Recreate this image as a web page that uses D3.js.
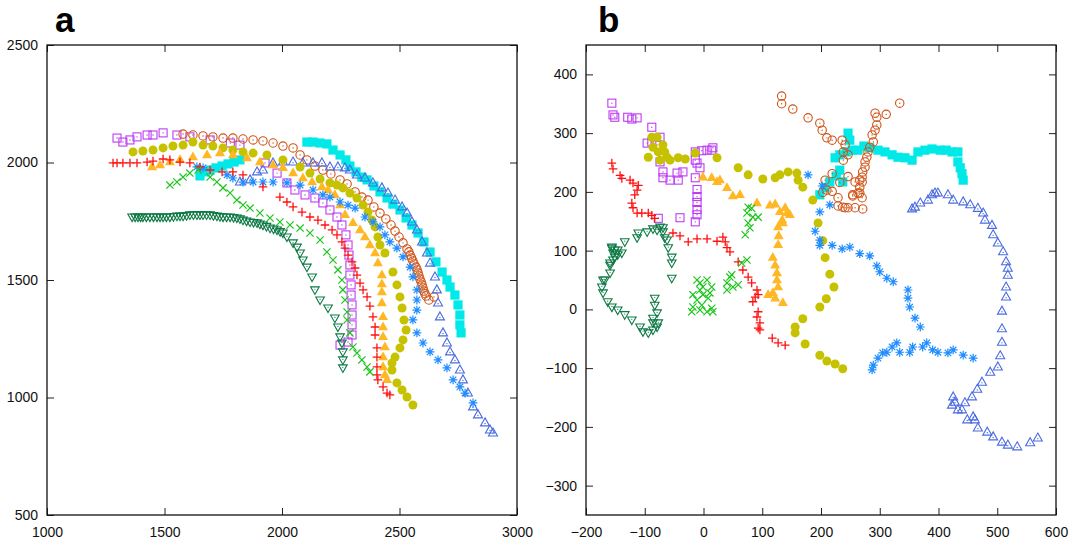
<!DOCTYPE html>
<html>
<head>
<meta charset="utf-8">
<script src="https://cdn.jsdelivr.net/npm/d3@7"></script>
<style>
  body { margin: 0; background: #fff; }
  svg text { font-family: "Liberation Sans", Arial, Helvetica, sans-serif; }
</style>
</head>
<body>
<svg id="chart" width="1072" height="543"></svg>
<script>
// ---------- Panel a : absolute positions ----------
const aSquare = [[1298,2104],[1323,2087],[1353,2096],[1383,2109],[1426,2117],[1451,2117],[1494,2126],[1553,2117],[1608,2109],[1694,2096],[1780,2083],[1821,2074],[1928,1998],[1979,1955],[2021,1913],[2055,1883],[2098,1862],[2140,1849],[2174,1828],[2204,1798],[2234,1768],[2255,1734],[2272,1692],[2281,1649],[2285,1606],[2289,1564],[2289,1521],[2294,1479],[2294,1436],[2298,1394],[2298,1351],[2298,1309],[2298,1266],[2281,1236],[2247,1223]];
const aCircle = [[1579,2121],[1621,2117],[1664,2113],[1706,2109],[1749,2104],[1791,2104],[1834,2100],[1877,2096],[1919,2092],[1962,2083],[2004,2070],[2047,2062],[2077,2032],[2106,2011],[2140,1985],[2174,1968],[2208,1951],[2247,1926],[2277,1909],[2311,1875],[2340,1853],[2366,1840],[2391,1811],[2417,1785],[2442,1760],[2464,1734],[2481,1708],[2498,1683],[2515,1658],[2532,1632],[2540,1620],[2545,1606],[2551,1594],[2557,1581],[2562,1568],[2570,1555],[2575,1543],[2579,1530],[2583,1517],[2587,1504],[2592,1492],[2596,1479],[2600,1466],[2604,1453],[2608,1442],[2613,1432],[2625,1415],[2647,1428]];
const aDisc = [[1366,2045],[1408,2049],[1451,2053],[1494,2062],[1536,2070],[1579,2074],[1621,2087],[1664,2074],[1706,2070],[1749,2062],[1791,2053],[1834,2045],[1877,2040],[1936,2032],[2004,2011],[2077,1981],[2119,1955],[2162,1930],[2204,1913],[2234,1904],[2259,1892],[2289,1870],[2319,1849],[2345,1819],[2366,1789],[2383,1755],[2396,1726],[2408,1683],[2417,1649],[2438,1615],[2472,1534],[2489,1479],[2502,1428],[2511,1381],[2519,1330],[2528,1287],[2515,1245],[2502,1211],[2481,1172],[2468,1147],[2468,1117],[2489,1062],[2511,1032],[2532,1002],[2557,968]];
const aTriFill = [[1447,1981],[1481,1989],[1523,2002],[1566,2011],[1621,2023],[1681,2032],[1736,2040],[1791,2032],[1851,2019],[1906,2002],[1962,1989],[2004,1977],[2047,1955],[2089,1934],[2128,1917],[2170,1896],[2196,1883],[2225,1862],[2247,1819],[2268,1777],[2302,1743],[2332,1713],[2353,1683],[2374,1649],[2396,1615],[2408,1572],[2425,1521],[2425,1483],[2425,1449],[2425,1402],[2430,1343],[2430,1300],[2430,1258],[2438,1215],[2430,1172],[2430,1130],[2438,1096],[2447,1075]];
const aPlus = [[1281,1998],[1298,1998],[1323,1998],[1353,1998],[1383,1998],[1426,2002],[1451,2006],[1494,2015],[1523,2011],[1566,2002],[1608,1998],[1651,1981],[1694,1968],[1745,1960],[1791,1960],[1834,1947],[1919,1896],[1991,1853],[2021,1832],[2047,1811],[2085,1789],[2119,1768],[2153,1755],[2183,1734],[2213,1713],[2234,1692],[2255,1662],[2268,1636],[2281,1606],[2298,1577],[2311,1551],[2319,1521],[2332,1487],[2345,1458],[2362,1428],[2374,1389],[2387,1343],[2396,1300],[2396,1266],[2404,1211],[2404,1172],[2404,1130],[2404,1096],[2408,1075],[2430,1045],[2447,1019],[2459,1011]];
const aStar = [[1638,1981],[1664,1977],[1766,1947],[1791,1934],[1834,1917],[1877,1917],[1919,1917],[1962,1917],[2021,1913],[2077,1904],[2132,1883],[2174,1862],[2204,1853],[2247,1832],[2281,1819],[2311,1806],[2353,1768],[2387,1747],[2417,1726],[2438,1692],[2459,1662],[2489,1636],[2515,1598],[2545,1555],[2557,1513],[2574,1458],[2574,1415],[2574,1372],[2557,1330],[2574,1275],[2600,1232],[2630,1194],[2664,1160],[2702,1126],[2728,1075],[2757,1045],[2779,1019],[2813,977]];
const aTriOpen = [[1821,1917],[1864,1926],[1894,1960],[1919,1968],[1962,1998],[2004,2002],[2047,2002],[2089,1998],[2132,1998],[2170,1998],[2204,1981],[2238,1981],[2268,1977],[2289,1968],[2319,1947],[2353,1934],[2387,1913],[2425,1892],[2451,1870],[2481,1840],[2511,1811],[2532,1785],[2553,1747],[2574,1713],[2596,1662],[2617,1615],[2630,1572],[2651,1513],[2659,1458],[2664,1402],[2672,1343],[2685,1275],[2702,1232],[2715,1194],[2736,1160],[2757,1117],[2770,1075],[2791,1019],[2813,960],[2834,926],[2864,892],[2885,862],[2898,849]];
const aCross = [[1523,1904],[1553,1917],[1579,1938],[1608,1955],[1643,1968],[1694,1938],[1723,1917],[1749,1892],[1779,1870],[1808,1840],[1834,1819],[1864,1806],[1906,1785],[1949,1764],[1991,1747],[2034,1734],[2077,1721],[2119,1700],[2162,1670],[2191,1619],[2217,1585],[2238,1543],[2255,1500],[2259,1458],[2268,1415],[2277,1364],[2277,1330],[2289,1275],[2302,1215],[2319,1189],[2340,1160],[2362,1130],[2374,1109]];
const aTriDown = [[1362,1768],[1375,1768],[1387,1768],[1398,1768],[1408,1768],[1423,1768],[1438,1768],[1453,1768],[1468,1768],[1481,1768],[1494,1768],[1508,1768],[1523,1768],[1538,1770],[1553,1772],[1566,1772],[1579,1772],[1594,1774],[1608,1777],[1623,1777],[1638,1777],[1651,1777],[1664,1777],[1679,1777],[1694,1777],[1708,1774],[1723,1772],[1736,1770],[1749,1768],[1764,1768],[1779,1768],[1794,1766],[1808,1764],[1821,1760],[1834,1755],[1849,1751],[1864,1747],[1879,1745],[1894,1743],[1906,1738],[1919,1734],[1934,1728],[1949,1721],[1964,1717],[1979,1713],[1992,1706],[2004,1700],[2021,1683],[2047,1658],[2064,1640],[2077,1615],[2089,1585],[2106,1555],[2128,1513],[2140,1458],[2162,1415],[2196,1381],[2225,1338],[2238,1300],[2247,1258],[2255,1232],[2259,1194],[2259,1160],[2259,1126]];
const aSquareFill = [[1651,1943],[1672,1960],[1694,1968],[1719,1977],[1745,1985],[1770,1994],[1796,2002],[1821,2011],[2106,2087],[2132,2087],[2162,2083],[2191,2079],[2217,2053],[2247,2032],[2272,2011],[2289,1985],[2315,1960],[2340,1938],[2362,1926],[2391,1900],[2417,1875],[2447,1849],[2472,1823],[2502,1798],[2528,1764],[2553,1734],[2579,1700],[2604,1662],[2630,1619],[2655,1577],[2681,1534],[2702,1500],[2715,1470],[2736,1436],[2749,1394],[2757,1351],[2757,1309],[2762,1275]];

// ---------- Panel b : displacements ----------
const bSquare = [[-156,351],[-154,331],[-151,327],[-129,327],[-122,324],[-113,326],[-88,310],[-96,283],[-88,285],[-74,293],[-79,280],[-74,251],[-69,234],[-69,224],[-57,220],[-45,232],[-43,220],[-35,234],[-14,268],[-3,270],[6,271],[14,271],[16,275],[-14,254],[-11,249],[-6,241],[-14,224],[-11,204],[-11,192],[-11,182],[-11,170],[-11,161],[-14,149],[-40,156],[-77,155]];
const bCircle = [[334,351],[311,332],[292,334],[295,327],[295,314],[292,305],[287,297],[289,285],[283,276],[280,268],[278,259],[275,251],[275,242],[271,234],[270,225],[266,220],[266,208],[263,198],[270,190],[254,193],[271,171],[258,173],[246,173],[237,174],[229,176],[229,190],[232,216],[246,226],[219,231],[207,220],[210,203],[203,199],[219,201],[254,195],[266,198],[270,217],[258,217],[241,173],[178,326],[198,317],[202,305],[210,292],[219,288],[236,288],[241,280],[238,268],[246,263],[238,254],[133,363],[133,350],[152,341]];
const bDisc = [[-88,293],[-79,293],[-94,259],[-86,276],[-77,268],[-69,280],[-66,268],[-62,259],[-74,254],[-57,254],[-43,258],[-31,256],[-14,266],[23,258],[59,241],[76,229],[101,222],[122,224],[130,229],[144,234],[159,232],[161,220],[169,208],[186,186],[195,147],[203,117],[207,88],[215,60],[222,38],[209,18],[198,4],[169,-16],[156,-30],[156,-40],[173,-59],[198,-78],[210,-88],[224,-93],[237,-101]];
const bTriFill = [[-1,225],[14,224],[23,217],[28,220],[40,207],[50,193],[62,195],[91,181],[113,177],[122,179],[130,166],[142,164],[134,152],[127,140],[135,147],[139,173],[147,161],[128,125],[127,110],[118,88],[122,75],[125,62],[125,50],[127,38],[118,28],[110,25],[122,19],[135,11]];
const bPlus = [[-156,249],[-154,239],[-142,228],[-139,223],[-125,220],[-120,215],[-111,211],[-113,203],[-117,195],[-122,181],[-120,173],[-113,164],[-105,164],[-94,164],[-88,160],[-83,155],[-52,130],[-40,125],[-26,115],[-11,120],[6,120],[23,116],[33,123],[37,115],[40,105],[45,98],[59,81],[67,67],[76,55],[82,45],[91,33],[93,25],[88,21],[84,13],[93,-4],[91,-13],[96,-23],[93,-32],[96,-35],[117,-49],[127,-57],[139,-61]];
const bStar = [[178,229],[202,210],[215,178],[198,166],[190,133],[198,118],[198,109],[219,109],[236,103],[249,106],[266,95],[283,91],[295,74],[300,64],[312,53],[323,47],[348,33],[348,19],[351,4],[360,-15],[369,-30],[329,-57],[321,-64],[312,-73],[305,-74],[297,-83],[289,-95],[287,-103],[334,-73],[351,-73],[356,-64],[373,-64],[380,-57],[390,-69],[399,-73],[416,-74],[425,-69],[442,-78],[459,-83]];
const bTriOpen = [[355,171],[360,174],[369,181],[382,186],[389,195],[394,198],[399,198],[416,195],[425,186],[442,183],[454,178],[467,172],[476,164],[479,152],[491,143],[493,127],[501,113],[510,98],[515,81],[518,70],[518,58],[515,38],[515,21],[508,-3],[508,-33],[508,-56],[505,-79],[501,-98],[488,-107],[474,-124],[466,-136],[457,-149],[445,-159],[425,-149],[428,-158],[423,-163],[433,-171],[440,-171],[449,-188],[459,-183],[462,-188],[467,-202],[483,-209],[493,-217],[508,-226],[518,-231],[534,-234],[556,-227],[569,-219]];
const bCross = [[76,174],[82,172],[74,164],[84,157],[76,147],[93,157],[71,127],[79,139],[74,84],[65,79],[48,59],[45,55],[40,45],[50,38],[59,42],[40,33],[-11,50],[-6,45],[6,50],[14,38],[-6,33],[-18,25],[-11,16],[-1,25],[8,19],[-3,7],[-18,4],[-20,-4],[-6,-1],[6,-4],[14,2],[16,-4],[-1,38],[11,28]];
const bTriDown = [[-156,106],[-151,101],[-154,96],[-146,93],[-139,96],[-154,84],[-159,75],[-171,50],[-134,115],[-111,130],[-96,132],[-86,137],[-74,140],[-69,132],[-62,118],[-113,122],[-79,135],[-69,139],[-66,122],[-60,105],[-54,89],[-54,79],[-54,53],[-156,104],[-146,101],[-151,89],[-159,79],[-159,62],[-168,50],[-173,38],[-171,28],[-163,13],[-156,4],[-146,-1],[-134,-9],[-122,-18],[-108,-30],[-103,-38],[-94,-40],[-86,-35],[-79,-30],[-77,-23],[-86,-15],[-79,-6],[-83,7],[-83,19],[-86,-23]];
const bSquareFill = [[198,195],[207,207],[215,217],[226,227],[232,237],[237,217],[224,258],[232,263],[243,268],[249,288],[246,300],[253,271],[263,271],[273,278],[283,275],[297,271],[309,268],[321,263],[331,259],[343,258],[355,254],[365,268],[377,271],[389,273],[403,271],[413,271],[423,268],[433,268],[433,251],[437,241],[440,231],[442,220]];

// ---------- tick values ----------
const aXTicks = [1000, 1500, 2000, 2500, 3000];
const aYTicks = [500, 1000, 1500, 2000, 2500];
const bXTicks = [-200, -100, 0, 100, 200, 300, 400, 500, 600];
const bYTicks = [-300, -200, -100, 0, 100, 200, 300, 400];

// ---------- marker styles ----------
const styles = {
  squareFill: { color: "#00e9e9", shape: "squareFill" },
  square:     { color: "#bd3cf2", shape: "square" },
  circle:     { color: "#cf5216", shape: "circle" },
  triOpen:    { color: "#4a6be0", shape: "triOpen" },
  disc:       { color: "#c6c200", shape: "disc" },
  triFill:    { color: "#ffb726", shape: "triFill" },
  star:       { color: "#1e8cff", shape: "star" },
  plus:       { color: "#ff1010", shape: "plus" },
  cross:      { color: "#1cc41c", shape: "cross" },
  triDown:    { color: "#0d7a45", shape: "triDown" }
};

// drawing order = list order
const panelA = [
  ["squareFill", aSquareFill], ["square", aSquare], ["circle", aCircle], ["triOpen", aTriOpen],
  ["disc", aDisc], ["triFill", aTriFill], ["star", aStar], ["plus", aPlus],
  ["cross", aCross], ["triDown", aTriDown]
];
const panelB = [
  ["squareFill", bSquareFill], ["square", bSquare], ["circle", bCircle], ["triOpen", bTriOpen],
  ["disc", bDisc], ["triFill", bTriFill], ["star", bStar], ["plus", bPlus],
  ["cross", bCross], ["triDown", bTriDown]
];

const svg = d3.select("#chart");

function drawMarker(g, shape, color) {
  const sw = 1.1;
  switch (shape) {
    case "squareFill":
      g.append("rect").attr("x", -4.6).attr("y", -4.6).attr("width", 9.2).attr("height", 9.2).attr("fill", color);
      break;
    case "square":
      g.append("rect").attr("x", -4).attr("y", -4).attr("width", 8).attr("height", 8)
        .attr("fill", "none").attr("stroke", color).attr("stroke-width", sw);
      g.append("circle").attr("r", 0.7).attr("fill", color);
      break;
    case "circle":
      g.append("circle").attr("r", 4.2).attr("fill", "none").attr("stroke", color).attr("stroke-width", sw);
      g.append("circle").attr("r", 0.7).attr("fill", color);
      break;
    case "disc":
      g.append("circle").attr("r", 4.5).attr("fill", color);
      break;
    case "triFill":
      g.append("path").attr("d", "M0,-5.6L5,3.2L-5,3.2Z").attr("fill", color);
      break;
    case "triOpen":
      g.append("path").attr("d", "M0,-5L4.5,3L-4.5,3Z").attr("fill", "none").attr("stroke", color).attr("stroke-width", sw);
      g.append("circle").attr("cy", 0.6).attr("r", 0.7).attr("fill", color);
      break;
    case "triDown":
      g.append("path").attr("d", "M0,4.6L4.3,-3L-4.3,-3Z").attr("fill", "none").attr("stroke", color).attr("stroke-width", sw);
      g.append("circle").attr("cy", -0.6).attr("r", 0.6).attr("fill", color);
      break;
    case "plus":
      g.append("path").attr("d", "M-4.3,0H4.3M0,-4.3V4.3").attr("stroke", color).attr("stroke-width", 1.3);
      break;
    case "star":
      g.append("path").attr("d", "M-4.4,0H4.4M0,-4.4V4.4M-3.2,-3.2L3.2,3.2M-3.2,3.2L3.2,-3.2")
        .attr("stroke", color).attr("stroke-width", 1.2);
      break;
    case "cross":
      g.append("path").attr("d", "M-3.6,-3.6L3.6,3.6M-3.6,3.6L3.6,-3.6").attr("stroke", color).attr("stroke-width", 1.2);
      break;
  }
}

function drawPanel(cfg) {
  const x = d3.scaleLinear().domain(cfg.xDomain).range([cfg.left, cfg.right]);
  const y = d3.scaleLinear().domain(cfg.yDomain).range([cfg.bottom, cfg.top]);
  const root = svg.append("g");

  // points
  cfg.series.forEach(([key, pts]) => {
    const st = styles[key];
    const grp = root.append("g").attr("class", "series-" + key);
    pts.forEach(p => {
      const m = grp.append("g").attr("transform", `translate(${x(p[0])},${y(p[1])})`);
      drawMarker(m, st.shape, st.color);
    });
  });

  // axes with inward ticks on all four sides
  const tk = 7;
  const styleAxis = g => {
    g.select(".domain").remove();
    g.selectAll(".tick line").attr("stroke", "#222").attr("stroke-width", 1);
    g.selectAll(".tick text").attr("fill", "#111").style("font-size", "14px");
  };
  root.append("g").attr("transform", `translate(0,${cfg.bottom})`)
    .call(d3.axisBottom(x).tickValues(cfg.xTicks).tickSize(-tk).tickPadding(12).tickFormat(d3.format("d")))
    .call(styleAxis);
  root.append("g").attr("transform", `translate(0,${cfg.top})`)
    .call(d3.axisTop(x).tickValues(cfg.xTicks).tickSize(-tk).tickFormat(""))
    .call(styleAxis);
  root.append("g").attr("transform", `translate(${cfg.left},0)`)
    .call(d3.axisLeft(y).tickValues(cfg.yTicks).tickSize(-tk).tickPadding(9).tickFormat(d3.format("d")))
    .call(styleAxis);
  root.append("g").attr("transform", `translate(${cfg.right},0)`)
    .call(d3.axisRight(y).tickValues(cfg.yTicks).tickSize(-tk).tickFormat(""))
    .call(styleAxis);
  root.selectAll("text").attr("font-family", null);

  // frame
  root.append("rect")
    .attr("x", cfg.left).attr("y", cfg.top)
    .attr("width", cfg.right - cfg.left).attr("height", cfg.bottom - cfg.top)
    .attr("fill", "none").attr("stroke", "#111").attr("stroke-width", 1.3);

  // panel letter
  root.append("text")
    .attr("x", cfg.labelX).attr("y", 32)
    .attr("font-weight", "bold").style("font-size", "35px").attr("fill", "#000")
    .text(cfg.label);
}

drawPanel({
  label: "a", labelX: 55,
  xDomain: [1000, 3000], yDomain: [500, 2500],
  left: 47, right: 517, top: 45, bottom: 515,
  xTicks: aXTicks, yTicks: aYTicks, series: panelA
});

drawPanel({
  label: "b", labelX: 598,
  xDomain: [-200, 600], yDomain: [-350, 450],
  left: 586, right: 1056, top: 45, bottom: 515,
  xTicks: bXTicks, yTicks: bYTicks, series: panelB
});
</script>
</body>
</html>
